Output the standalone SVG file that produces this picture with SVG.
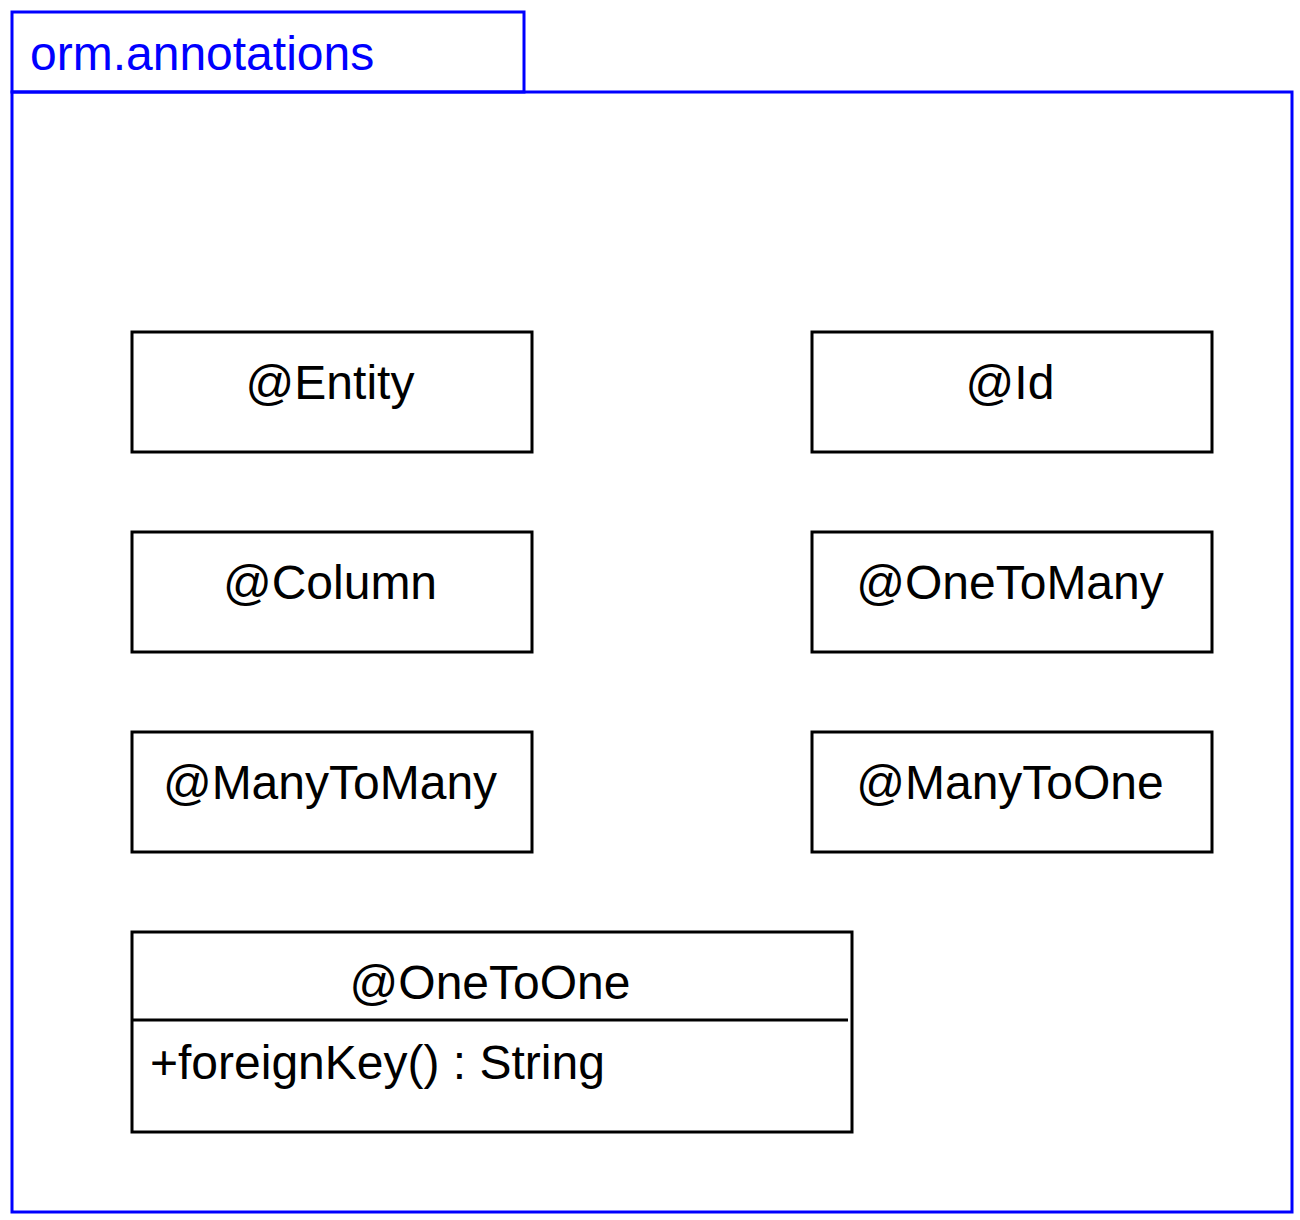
<svg xmlns="http://www.w3.org/2000/svg" width="1300" height="1220" viewBox="0 0 1300 1220">
<style>
.pkg{fill:none;stroke:#0000ff;stroke-width:3}
.ptxt{font-family:"Liberation Sans",Arial,sans-serif;font-size:48px;fill:#0000ff}
.box{fill:#ffffff;stroke:#000000;stroke-width:3}
.txt{font-family:"Liberation Sans",Arial,sans-serif;font-size:48px;fill:#000000}
.c{text-anchor:middle}
</style>
<rect width="1300" height="1220" fill="#ffffff"/>
<g id="package">
<rect class="pkg" x="12" y="12" width="512" height="80"/>
<rect class="pkg" x="12" y="92" width="1280" height="1120"/>
<text class="ptxt" x="30" y="70">orm.annotations</text>
</g>
<g id="connectors"></g>
<g id="entity"><rect class="box" x="132" y="332" width="400" height="120"/><text class="txt c" x="330" y="399">@Entity</text></g>
<g id="id"><rect class="box" x="812" y="332" width="400" height="120"/><text class="txt c" x="1010" y="399">@Id</text></g>
<g id="column"><rect class="box" x="132" y="532" width="400" height="120"/><text class="txt c" x="330" y="599">@Column</text></g>
<g id="onetomany"><rect class="box" x="812" y="532" width="400" height="120"/><text class="txt c" x="1010" y="599">@OneToMany</text></g>
<g id="manytomany"><rect class="box" x="132" y="732" width="400" height="120"/><text class="txt c" x="330" y="799">@ManyToMany</text></g>
<g id="manytoone"><rect class="box" x="812" y="732" width="400" height="120"/><text class="txt c" x="1010" y="799">@ManyToOne</text></g>
<g id="onetoone">
<rect class="box" x="132" y="932" width="720" height="200"/>
<line x1="132" y1="1020" x2="848" y2="1020" stroke="#000000" stroke-width="3"/>
<text class="txt c" x="490" y="999">@OneToOne</text>
<text class="txt" x="150" y="1079">+foreignKey() : String</text>
</g>
</svg>
